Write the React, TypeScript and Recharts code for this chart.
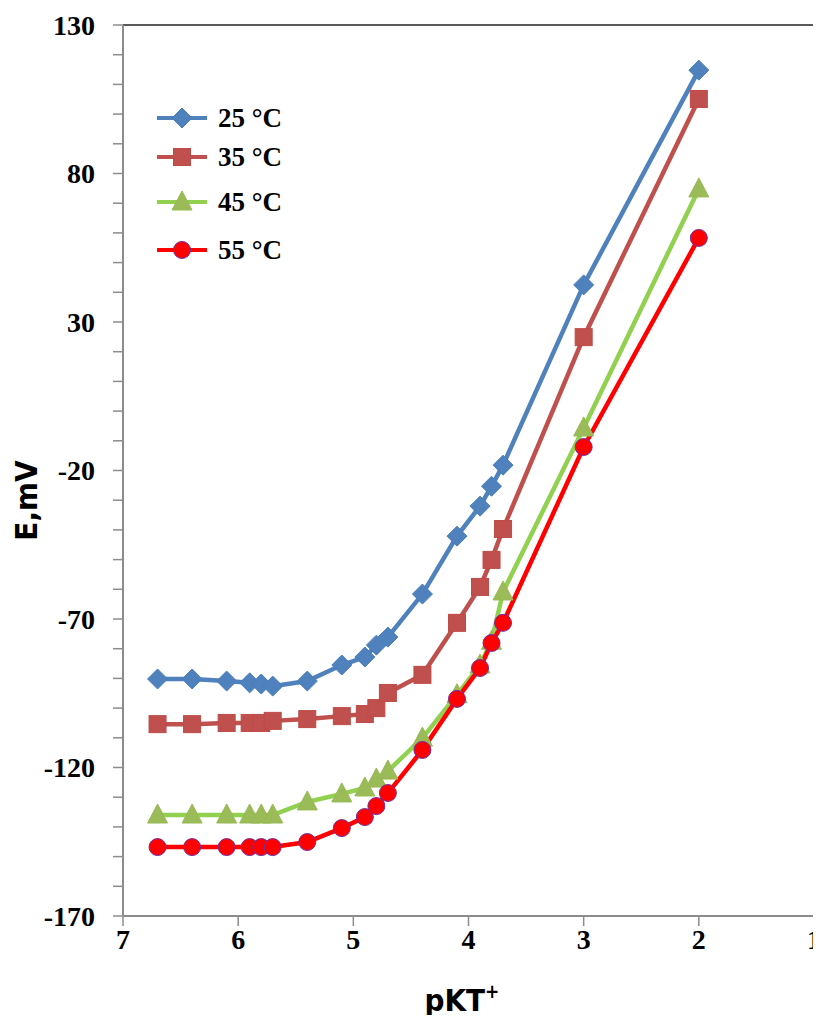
import React from 'react';
import { LineChart, Line, XAxis, YAxis, ReferenceLine, Legend } from 'recharts';

const pkt = [6.7, 6.4, 6.1, 5.9, 5.8, 5.7, 5.4, 5.1, 4.9, 4.8, 4.7, 4.4, 4.1, 3.9, 3.8, 3.7, 3.0, 2.0];
const e25 = [-90.2, -90.2, -90.9, -91.5, -91.9, -92.6, -90.9, -85.5, -82.8, -78.8, -76.1, -61.6, -42.1, -32.0, -25.3, -18.2, 42.5, 114.8];
const e35 = [-105.4, -105.4, -105.0, -105.0, -105.0, -104.3, -103.7, -102.7, -102.0, -100.0, -94.9, -88.8, -71.3, -59.2, -50.1, -39.7, 24.9, 105.1];
const e45 = [-136.0, -136.0, -136.0, -136.0, -136.0, -136.0, -131.6, -128.9, -126.9, -123.9, -121.2, -110.1, -95.5, -85.5, -77.5, -60.9, -5.7, 74.8];
const e55 = [-146.8, -146.8, -146.8, -146.8, -146.8, -146.8, -145.1, -140.4, -136.7, -133.0, -128.6, -114.1, -96.9, -86.5, -78.1, -71.3, -12.1, 58.3];

const xTicks = [1, 2, 3, 4, 5, 6, 7];
const yTicks = [-170, -160, -150, -140, -130, -120, -110, -100, -90, -80, -70, -60, -50, -40, -30, -20, -10, 0, 10, 20, 30, 40, 50, 60, 70, 80, 90, 100, 110, 120, 130];
const yLabelled = [-170, -120, -70, -20, 30, 80, 130];

const data = pkt.map((p, i) => ({ pkt: p, t25: e25[i], t35: e35[i], t45: e45[i], t55: e55[i] }));

const serif = "'Liberation Serif', 'Times New Roman', serif";
const narrow = "'Liberation Sans Narrow', 'DejaVu Sans Condensed', 'Arial Narrow', sans-serif";

const Diamond = ({ cx, cy }: any) => (
  <path d={`M${cx},${cy - 10} L${cx + 10},${cy} L${cx},${cy + 10} L${cx - 10},${cy} Z`} fill="#4f81bd" stroke="#4a7ebb" strokeWidth={1} />
);
const Square = ({ cx, cy }: any) => (
  <rect x={cx - 8.5} y={cy - 8.5} width={17} height={17} fill="#c0504d" stroke="#be4b48" strokeWidth={1} />
);
const Triangle = ({ cx, cy }: any) => (
  <path d={`M${cx},${cy - 11} L${cx + 10},${cy + 8} L${cx - 10},${cy + 8} Z`} fill="#9bbb59" stroke="#98b954" strokeWidth={1} />
);
const Circle = ({ cx, cy }: any) => (
  <circle cx={cx} cy={cy} r={8.5} fill="#ff0000" stroke="#7030a0" strokeWidth={1} />
);

const series = [
  { key: 't25', name: '25 °C', color: '#4f81bd', Marker: Diamond },
  { key: 't35', name: '35 °C', color: '#c0504d', Marker: Square },
  { key: 't45', name: '45 °C', color: '#92d050', Marker: Triangle },
  { key: 't55', name: '55 °C', color: '#ff0000', Marker: Circle },
];

const YTick = ({ x, y, payload }: any) => {
  if (!yLabelled.includes(payload.value)) return null;
  return (
    <text x={x + 1} y={y} textAnchor="end" dominantBaseline="central" fontFamily={serif} fontWeight="bold" fontSize={28} fill="#000">
      {payload.value}
    </text>
  );
};

const XTick = ({ x, y, payload }: any) => (
  <text x={x} y={y + 21} textAnchor="middle" fontFamily={serif} fontWeight="bold" fontSize={28} fill="#000">
    {payload.value}
  </text>
);

const legendRows = [18, 57, 102, 150];

const LegendBox = () => (
  <svg width={160} height={175} style={{ display: 'block' }}>
    {series.map((s, i) => (
      <g key={s.key}>
        <line x1={7} x2={57} y1={legendRows[i]} y2={legendRows[i]} stroke={s.color} strokeWidth={4} />
        <s.Marker cx={32} cy={legendRows[i]} />
        <text x={68} y={legendRows[i]} dominantBaseline="central" fontFamily={serif} fontWeight="bold" fontSize={27} fill="#000">
          {s.name}
        </text>
      </g>
    ))}
  </svg>
);

export default function App() {
  return (
    <div style={{ margin: -8, width: 821, height: 1023, background: '#fff' }}>
      <LineChart width={821} height={1023} data={data} margin={{ top: 25, right: 7, bottom: 0, left: 0 }}>
        <XAxis
          dataKey="pkt"
          type="number"
          domain={[1, 7]}
          reversed
          ticks={xTicks}
          interval={0}
          height={107}
          tickSize={10}
          tick={<XTick />}
          axisLine={{ stroke: '#8c8c8c', strokeWidth: 2 }}
          tickLine={{ stroke: '#8c8c8c', strokeWidth: 1.5 }}
          label={{
            content: ({ viewBox }: any) => (
              <text x={viewBox.x + viewBox.width / 2 - 44} y={viewBox.y + 95} fontFamily={narrow} fontWeight="bold" fontSize={31} fill="#000">
                pKT<tspan dy={-13} fontSize={19}>+</tspan>
              </text>
            ),
          }}
        />
        <YAxis
          type="number"
          domain={[-170, 130]}
          ticks={yTicks}
          interval={0}
          width={123}
          tickSize={10}
          tickMargin={19}
          tick={<YTick />}
          axisLine={{ stroke: '#8c8c8c', strokeWidth: 2 }}
          tickLine={{ stroke: '#8c8c8c', strokeWidth: 1.5 }}
          label={{
            content: ({ viewBox }: any) => (
              <text
                x={37}
                y={viewBox.y + viewBox.height / 2 + 30}
                transform={`rotate(-90 37 ${viewBox.y + viewBox.height / 2 + 30})`}
                textAnchor="middle"
                fontFamily={narrow}
                fontWeight="bold"
                fontSize={31}
                fill="#000"
              >
                E,mV
              </text>
            ),
          }}
        />
        <ReferenceLine y={130} stroke="#595959" strokeWidth={2} />
        <ReferenceLine x={1} stroke="#595959" strokeWidth={2} />
        <Legend
          layout="horizontal"
          verticalAlign="middle"
          align="center"
          wrapperStyle={{ top: 100, left: 150, width: 160, height: 175 }}
          content={() => <LegendBox />}
        />
        {series.map((s) => (
          <Line
            key={s.key}
            dataKey={s.key}
            name={s.name}
            stroke={s.color}
            strokeWidth={4.5}
            type="linear"
            isAnimationActive={false}
            dot={(p: any) => <s.Marker key={`${s.key}-${p.index}`} cx={p.cx} cy={p.cy} />}
            activeDot={false}
          />
        ))}
      </LineChart>
    </div>
  );
}
